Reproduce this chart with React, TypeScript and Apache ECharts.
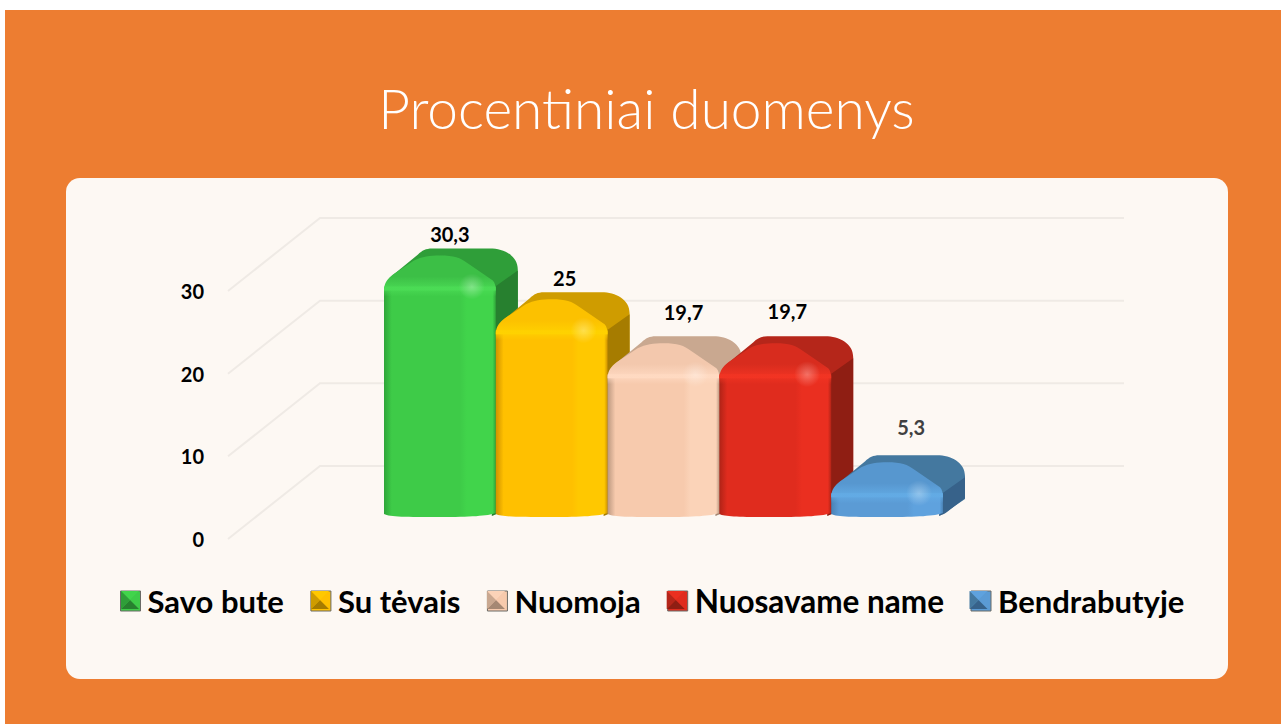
import React, { useEffect, useRef } from "react";
import * as echarts from "echarts";

const titleText = "Procentiniai duomenys";
const seriesNames = ["Savo bute", "Su tėvais", "Nuomoja", "Nuosavame name", "Bendrabutyje"];
const seriesValues = [30.3, 25, 19.7, 19.7, 5.3];
const axisTicks = [0, 10, 20, 30];

const frontColors = ["#3ecb48", "#ffc000", "#f7caad", "#e02c1e", "#5b9bd5"];
const frontLightColors = ["#41d44b", "#ffc800", "#fbd3b8", "#ea2f20", "#5fa2de"];
const edgeColors = ["#2fa539", "#cf9200", "#bc9880", "#b02317", "#4a82b5"];
const domeColors = ["#3cbf46", "#fcc100", "#f3c8ad", "#d82c1e", "#5797cf"];
const shineColors = ["#4bdc55", "#ffd200", "#ffdac2", "#f23423", "#63abe5"];
const backColors = ["#2f9e39", "#cf9c00", "#c9a890", "#b5261a", "#44789f"];
const sideColors = ["#27802f", "#a67c00", "#a58873", "#8f1e13", "#37628a"];
const labelColors = ["#000000", "#000000", "#000000", "#000000", "#404040"];

// layout only
const labelNudgeX = [10, 13, 20, 12, 24];
const labelY = [233.5, 277.5, 311.5, 310.5, 426.5];
const legendFontSizes = [31, 31, 31, 31.5, 31];
const LEGEND_LEFT = 115;
const LEGEND_GAP = 26.5;
const swatchTop = 590;
const swatchSize = 20;
const DEPTH_X = 92;
const DEPTH_Y = 73;
const PLANE_X = 28;
const PLANE_Y = 22;
const WALL_FRONT_X = 228;
const WALL_RIGHT_X = 1124;
const FONT = "Lato, Carlito, sans-serif";

const barRender = (i: number) => (_params: any, api: any) => {
  const top = api.coord([i, seriesValues[i]]);
  const base = api.coord([i, 0]);
  const w = api.size([1, 0])[0];
  const x0 = top[0] - w / 2 + PLANE_X;
  const x1 = x0 + w;
  const yb = base[1] - PLANE_Y;
  const yt = top[1] - PLANE_Y;
  const s = yt + 18;
  const silhouette = `M${x0 + 1} ${s + 4} C${x0 + 2} ${s - 4} ${x0 + 8} ${s - 9} ${x0 + 12} ${s - 12}
    L${x0 + 34} ${s - 30} C${x0 + 38} ${s - 34} ${x0 + 42} ${s - 36} ${x0 + 48} ${s - 36}
    L${x1 - 6} ${s - 36} C${x1 + 8} ${s - 36} ${x1 + 22} ${s - 29} ${x1 + 22} ${s - 15}
    L${x1 + 22} ${yb - 18} L${x1} ${yb - 3} L${x0 + 1} ${yb - 3} Z`;
  const side = `M${x1 - 2} ${s + 3} L${x1 + 22} ${s - 14} L${x1 + 22} ${yb - 19} L${x1 + 4} ${yb - 5} C${x1} ${yb - 2} ${x1 - 2} ${yb - 2} ${x1 - 4} ${yb - 1} Z`;
  const dome = `M${x0} ${s + 6} C${x0} ${s - 2} ${x0 + 4} ${s - 6} ${x0 + 9} ${s - 10}
    L${x0 + 30} ${s - 24} C${x0 + 38} ${s - 28} ${x0 + 46} ${s - 29} ${x0 + 56} ${s - 29}
    C${x0 + 70} ${s - 29} ${x0 + 76} ${s - 27} ${x0 + 84} ${s - 21}
    L${x1 - 3} ${s - 4} C${x1 - 1} ${s - 2} ${x1} ${s + 2} ${x1} ${s + 6} Z`;
  const face = `M${x0} ${s + 3} L${x1} ${s + 3} L${x1} ${yb - 4} C${x1 - 8} ${yb - 1} ${x1 - 26} ${yb} ${x0 + w / 2} ${yb}
    C${x0 + 22} ${yb} ${x0 + 6} ${yb} ${x0} ${yb - 3} Z`;
  const band = `M${x0} ${s + 2} L${x1} ${s + 2} L${x1} ${s + 12} L${x0} ${s + 12} Z`;
  const faceFill = new echarts.graphic.LinearGradient(0, 0, 1, 0, [
    { offset: 0, color: edgeColors[i] },
    { offset: 0.07, color: frontColors[i] },
    { offset: 0.68, color: frontColors[i] },
    { offset: 0.74, color: frontLightColors[i] },
    { offset: 0.97, color: frontLightColors[i] },
    { offset: 1, color: edgeColors[i] },
  ]);
  const domeFill = new echarts.graphic.LinearGradient(0, 0, 0, 1, [
    { offset: 0, color: domeColors[i] },
    { offset: 0.6, color: domeColors[i] },
    { offset: 1, color: shineColors[i] },
  ]);
  const bandFill = new echarts.graphic.LinearGradient(0, 0, 0, 1, [
    { offset: 0, color: shineColors[i] },
    { offset: 1, color: shineColors[i] + "00" },
  ]);
  const glow = new echarts.graphic.RadialGradient(0.5, 0.5, 0.5, [
    { offset: 0, color: "rgba(255,255,255,0.3)" },
    { offset: 1, color: "rgba(255,255,255,0)" },
  ]);
  return {
    type: "group",
    children: [
      { type: "path", shape: { pathData: silhouette }, style: { fill: backColors[i] } },
      { type: "path", shape: { pathData: side }, style: { fill: sideColors[i] } },
      { type: "path", shape: { pathData: face }, style: { fill: faceFill } },
      { type: "path", shape: { pathData: dome }, style: { fill: domeFill } },
      { type: "path", shape: { pathData: band }, style: { fill: bandFill } },
      { type: "circle", shape: { cx: x1 - 24, cy: s + 2, r: 13 }, style: { fill: glow } },
      {
        type: "text",
        x: x0 + w / 2 + labelNudgeX[i],
        y: labelY[i],
        style: {
          text: String(seriesValues[i]).replace(".", ","),
          fill: labelColors[i],
          fontFamily: FONT,
          fontWeight: "bold",
          fontSize: 20,
          textAlign: "center",
          textVerticalAlign: "middle",
        },
      },
    ],
  };
};

const wallRender = (params: any, api: any) => {
  const tick = axisTicks[params.dataIndex];
  const y = api.coord([0, tick])[1];
  return {
    type: "polyline",
    shape: {
      points: [
        [WALL_FRONT_X, y],
        [WALL_FRONT_X + DEPTH_X, y - DEPTH_Y],
        [WALL_RIGHT_X, y - DEPTH_Y],
      ],
    },
    style: { fill: "none", stroke: "#efeae5", lineWidth: 2 },
  };
};

// The legend lays its items out from measured text; repeat that sum so the
// bevels sit exactly on the legend's own swatches.
const measureSwatchLefts = () => {
  const ctx = document.createElement("canvas").getContext("2d")!;
  let x = LEGEND_LEFT + 5;
  return seriesNames.map((name, i) => {
    const left = x;
    ctx.font = `bold ${legendFontSizes[i]}px ${FONT}`;
    x += swatchSize + 5 + 2 + ctx.measureText(name).width + LEGEND_GAP;
    return left;
  });
};

const swatchBevels = () =>
  measureSwatchLefts().flatMap((x, i) => {
    const a = x + 1;
    const b = swatchTop + 1;
    const e = swatchSize - 2;
    const c = [a + e / 2, b + e / 2];
    const tri = (p: number[][], fill: string) => ({
      type: "polygon",
      z: 10,
      silent: true,
      shape: { points: p },
      style: { fill },
    });
    return [
      tri([[a, b], [a + e, b], c], frontLightColors[i]),
      tri([[a + e, b], [a + e, b + e], c], frontColors[i]),
      tri([[a, b + e], [a + e, b + e], c], sideColors[i]),
      tri([[a, b], [a, b + e], c], backColors[i]),
    ];
  });

export default function App() {
  const ref = useRef<HTMLDivElement>(null);
  useEffect(() => {
    document.body.style.margin = "0";
    const chart = echarts.init(ref.current!, null, { renderer: "svg" });
    chart.setOption({
      animation: false,
      backgroundColor: "#ffffff",
      title: {
        text: titleText,
        left: 641.5,
        top: 75,
        textAlign: "center",
        textStyle: { color: "#ffffff", fontFamily: FONT, fontWeight: 300, fontSize: 55 },
      },
      grid: { left: 356, width: 559, top: 291, height: 248 },
      xAxis: { type: "category", data: seriesNames, show: false },
      yAxis: {
        type: "value",
        min: 0,
        max: 30,
        interval: 10,
        axisLine: { show: false },
        axisTick: { show: false },
        splitLine: { show: false },
        axisLabel: {
          margin: 152,
          color: "#000000",
          fontFamily: FONT,
          fontWeight: "bold",
          fontSize: 20,
          padding: [0, 0, 3, 0],
        },
      },
      legend: {
        left: LEGEND_LEFT,
        top: 580,
        icon: "rect",
        itemWidth: swatchSize,
        itemHeight: swatchSize,
        itemGap: LEGEND_GAP,
        data: seriesNames.map((name, i) => ({
          name,
          textStyle: { fontSize: legendFontSizes[i] },
        })),
        selectedMode: false,
        itemStyle: { borderColor: "#6a6a66", borderWidth: 1 },
        textStyle: {
          color: "#000000",
          fontFamily: FONT,
          fontWeight: "bold",
          fontSize: 31,
          padding: [0, 0, 4, 2],
        },
      },
      graphic: [
        { type: "rect", z: 0, silent: true, shape: { x: 5, y: 10, width: 1276, height: 714 }, style: { fill: "#ed7d31" } },
        { type: "rect", z: 0, silent: true, shape: { x: 66, y: 178, width: 1162, height: 501, r: 14 }, style: { fill: "#fdf8f3" } },
        ...swatchBevels(),
      ],
      series: [
        {
          type: "custom",
          name: "wall",
          silent: true,
          z: 1,
          clip: false,
          renderItem: wallRender,
          data: axisTicks.map((t) => [0, t]),
        },
        ...seriesNames.map((name, i) => ({
          type: "custom",
          name,
          z: 2 + i,
          clip: false,
          silent: true,
          itemStyle: { color: frontColors[i] },
          renderItem: barRender(i),
          data: [[i, seriesValues[i]]],
        })),
      ],
    });
    return () => chart.dispose();
  }, []);
  return <div ref={ref} style={{ width: 1281, height: 724 }} />;
}
